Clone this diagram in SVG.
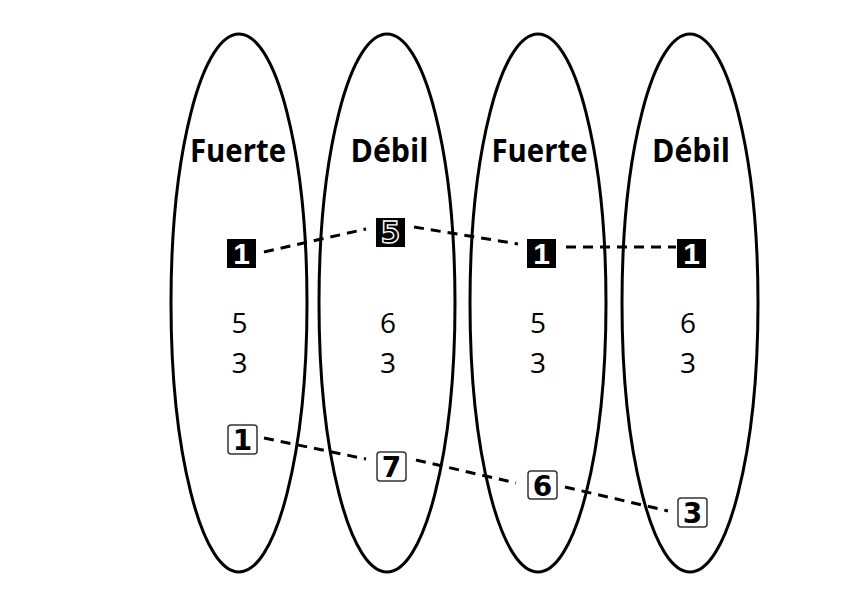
<svg xmlns="http://www.w3.org/2000/svg" width="861" height="593" viewBox="0 0 861 593">
<style>
.ell{fill:none;stroke:#000;stroke-width:3}
.lbl{font-family:"Open Sans","Liberation Sans",sans-serif;font-weight:bold;font-size:32px;text-anchor:middle;fill:#000}
.num{font-family:"Open Sans","Liberation Sans",sans-serif;font-size:28px;text-anchor:middle;fill:#000}
.blk{fill:#000}
.blkt{font-family:"Liberation Sans",sans-serif;font-weight:bold;font-size:30px;text-anchor:middle;fill:#fff}
.blk5{font-family:"DejaVu Sans Mono","Liberation Mono",monospace;font-weight:bold;font-size:30px;text-anchor:middle;fill:#000;stroke:#fff;stroke-width:1.3}
.obox{fill:#fff;stroke:#333;stroke-width:1.5}
.ot{font-family:"DejaVu Sans","Liberation Sans",sans-serif;font-weight:bold;font-size:28px;text-anchor:middle;fill:#000}
.dash{fill:none;stroke:#000;stroke-width:3;stroke-dasharray:10 7}
</style>
<rect width="861" height="593" fill="#fff"/>
<g id="group1">
<ellipse class="ell" cx="239" cy="303" rx="68" ry="269"/>
<text class="lbl" x="238" y="162" textLength="96" lengthAdjust="spacingAndGlyphs">Fuerte</text>
<text class="num" x="239.5" y="333">5</text>
<text class="num" x="239.5" y="373">3</text>
</g>
<g id="group2">
<ellipse class="ell" cx="387" cy="303" rx="68" ry="269"/>
<text class="lbl" x="389.5" y="162" textLength="78" lengthAdjust="spacingAndGlyphs">Débil</text>
<text class="num" x="388" y="333">6</text>
<text class="num" x="388" y="373">3</text>
</g>
<g id="group3">
<ellipse class="ell" cx="538" cy="303" rx="68" ry="269"/>
<text class="lbl" x="539.5" y="162" textLength="96" lengthAdjust="spacingAndGlyphs">Fuerte</text>
<text class="num" x="538" y="333">5</text>
<text class="num" x="538" y="373">3</text>
</g>
<g id="group4">
<ellipse class="ell" cx="690" cy="303" rx="68" ry="269"/>
<text class="lbl" x="691" y="162" textLength="78" lengthAdjust="spacingAndGlyphs">Débil</text>
<text class="num" x="688" y="333">6</text>
<text class="num" x="688" y="373">3</text>
</g>
<g id="connectors">
<line class="dash" x1="264" y1="252" x2="366" y2="229"/>
<line class="dash" x1="414" y1="227" x2="518" y2="244"/>
<line class="dash" x1="566" y1="247" x2="676" y2="247"/>
<line class="dash" x1="264" y1="438" x2="366" y2="459"/>
<line class="dash" x1="416" y1="460" x2="516" y2="483"/>
<line class="dash" x1="565" y1="487" x2="668" y2="511"/>
</g>
<g id="b1">
<rect class="blk" x="227" y="239" width="29" height="29"/>
<text class="blkt" x="241.5" y="264">1</text>
</g>
<g id="b5">
<rect class="blk" x="376" y="218" width="29" height="29"/>
<text class="blk5" x="390.5" y="243" textLength="20" lengthAdjust="spacingAndGlyphs">5</text>
</g>
<g id="b1c">
<rect class="blk" x="527" y="239" width="29" height="29"/>
<text class="blkt" x="541.5" y="264">1</text>
</g>
<g id="b1d">
<rect class="blk" x="677" y="239" width="29" height="29"/>
<text class="blkt" x="691.5" y="264">1</text>
</g>
<g id="o1">
<rect class="obox" x="228" y="425" width="29" height="29" rx="3"/>
<text class="ot" x="242.5" y="450">1</text>
</g>
<g id="o7">
<rect class="obox" x="377" y="452" width="29" height="29" rx="3"/>
<text class="ot" x="391.5" y="477">7</text>
</g>
<g id="o6">
<rect class="obox" x="528" y="471" width="29" height="28" rx="3"/>
<text class="ot" x="542.5" y="495.5">6</text>
</g>
<g id="o3">
<rect class="obox" x="678" y="498" width="29" height="29" rx="3"/>
<text class="ot" x="692.5" y="523">3</text>
</g>
</svg>
